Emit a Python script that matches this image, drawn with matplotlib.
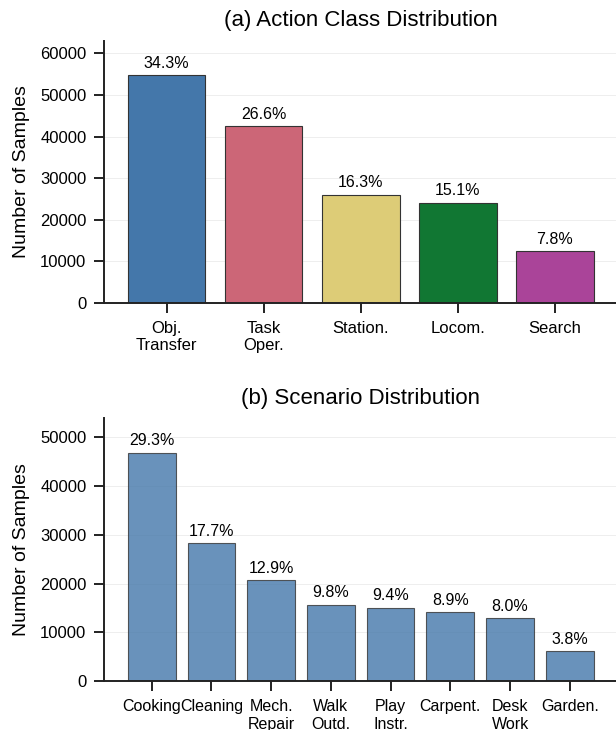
import numpy as np
import matplotlib
matplotlib.use("Agg")
import matplotlib.pyplot as plt

# (a) action classes
ACTIONS = ["Obj.\nTransfer", "Task\nOper.", "Station.", "Locom.", "Search"]
ACTION_N = [54800, 42500, 26050, 24150, 12450]
ACTION_PCT = ["34.3%", "26.6%", "16.3%", "15.1%", "7.8%"]
ACTION_COLORS = ["#4477AA", "#CC6677", "#DDCC77", "#117733", "#AA4499"]

# (b) scenarios
SCEN = ["Cooking", "Cleaning", "Mech.\nRepair", "Walk\nOutd.", "Play\nInstr.",
        "Carpent.", "Desk\nWork", "Garden."]
SCEN_N = [46900, 28400, 20700, 15700, 15100, 14200, 12900, 6200]
SCEN_PCT = ["29.3%", "17.7%", "12.9%", "9.8%", "9.4%", "8.9%", "8.0%", "3.8%"]


def style(ax, ymax):
    ax.set_ylim(0, ymax * 1.15)
    for s in ["top", "right"]:
        ax.spines[s].set_visible(False)
    for s in ["left", "bottom"]:
        ax.spines[s].set_linewidth(1.4)
        ax.spines[s].set_color("#222222")
    ax.tick_params(axis="both", direction="out", length=7, width=1.4,
                   pad=6, color="#222222", labelsize=12)
    ax.yaxis.grid(True, color="#eeeeee", linewidth=0.7)
    ax.set_axisbelow(True)
    ax.set_ylabel("Number of Samples", fontsize=14, labelpad=7)


def label(ax, bars, pcts):
    for b, p in zip(bars, pcts):
        ax.annotate(p, (b.get_x() + b.get_width() / 2, b.get_height()),
                    xytext=(0, 3), textcoords="offset points",
                    ha="center", va="bottom", fontsize=11.5)


def main():
    plt.rcParams.update({"font.family": ["Liberation Sans", "DejaVu Sans"]})
    fig = plt.figure(figsize=(6.16, 7.3), dpi=100)
    axA = fig.add_axes([0.1696, 0.585, 0.832, 0.359])
    axB = fig.add_axes([0.1696, 0.067, 0.832, 0.360])

    x = np.arange(len(ACTIONS))
    bars = axA.bar(x, ACTION_N, width=0.8, color=ACTION_COLORS,
                   edgecolor="#333333", linewidth=0.8)
    style(axA, max(ACTION_N))
    axA.set_xticks(x)
    axA.set_xticklabels(ACTIONS, fontsize=12)
    label(axA, bars, ACTION_PCT)
    axA.set_title("(a) Action Class Distribution", fontsize=16, pad=10.5)

    x = np.arange(len(SCEN))
    bars = axB.bar(x, SCEN_N, width=0.8, color="#4477AA", alpha=0.8,
                   edgecolor="#333333", linewidth=0.8)
    style(axB, max(SCEN_N))
    axB.set_xticks(x)
    axB.set_xticklabels(SCEN, fontsize=11.5)
    label(axB, bars, SCEN_PCT)
    axB.set_title("(b) Scenario Distribution", fontsize=16, pad=10.5)

    fig.savefig("out.png", dpi=100)


if __name__ == "__main__":
    main()
